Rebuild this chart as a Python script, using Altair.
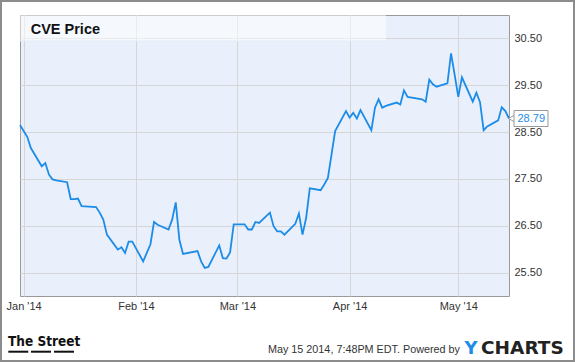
import altair as alt
import pandas as pd

# ---- data ----
dates = [
    "2013-12-31", "2014-01-02", "2014-01-03", "2014-01-06", "2014-01-07", "2014-01-08",
    "2014-01-09", "2014-01-10", "2014-01-13", "2014-01-14", "2014-01-15", "2014-01-16",
    "2014-01-17", "2014-01-21", "2014-01-22", "2014-01-23", "2014-01-24", "2014-01-27",
    "2014-01-28", "2014-01-29", "2014-01-30", "2014-01-31", "2014-02-03", "2014-02-04",
    "2014-02-05", "2014-02-06", "2014-02-07", "2014-02-10", "2014-02-11", "2014-02-12",
    "2014-02-13", "2014-02-14", "2014-02-18", "2014-02-19", "2014-02-20", "2014-02-21",
    "2014-02-24", "2014-02-25", "2014-02-26", "2014-02-27", "2014-02-28", "2014-03-03",
    "2014-03-04", "2014-03-05", "2014-03-06", "2014-03-07", "2014-03-10", "2014-03-11",
    "2014-03-12", "2014-03-13", "2014-03-14", "2014-03-17", "2014-03-18", "2014-03-19",
    "2014-03-20", "2014-03-21", "2014-03-24", "2014-03-25", "2014-03-26", "2014-03-27",
    "2014-03-28", "2014-03-31", "2014-04-01", "2014-04-02", "2014-04-03", "2014-04-04",
    "2014-04-07", "2014-04-08", "2014-04-09", "2014-04-10", "2014-04-11", "2014-04-14",
    "2014-04-15", "2014-04-16", "2014-04-17", "2014-04-21", "2014-04-22", "2014-04-23",
    "2014-04-24", "2014-04-25", "2014-04-28", "2014-04-29", "2014-04-30", "2014-05-01",
    "2014-05-02", "2014-05-05", "2014-05-06", "2014-05-07", "2014-05-08", "2014-05-09",
    "2014-05-12", "2014-05-13", "2014-05-14", "2014-05-15",
]
prices = [
    28.65, 28.40, 28.16, 27.77, 27.84, 27.59,
    27.49, 27.47, 27.43, 27.07, 27.07, 27.08,
    26.92, 26.90, 26.78, 26.63, 26.31, 25.99,
    26.04, 25.92, 26.16, 26.16, 25.74, 25.92,
    26.10, 26.58, 26.52, 26.42, 26.63, 27.00,
    26.20, 25.90, 25.96, 25.74, 25.60, 25.62,
    26.08, 25.81, 25.80, 25.93, 26.53, 26.53,
    26.42, 26.42, 26.58, 26.56, 26.78, 26.49,
    26.38, 26.38, 26.31, 26.54, 26.76, 26.31,
    26.67, 27.30, 27.26, 27.38, 27.52, 28.02,
    28.52, 28.95, 28.81, 28.91, 28.79, 28.97,
    28.54, 29.02, 29.20, 29.02, 29.06, 29.13,
    29.09, 29.39, 29.25, 29.20, 29.15, 29.62,
    29.52, 29.47, 29.54, 30.18, 29.72, 29.25,
    29.67, 29.15, 29.34, 29.14, 28.54, 28.62,
    28.75, 29.03, 28.95, 28.79,
]
y_ticks = [25.5, 26.5, 27.5, 28.5, 29.5, 30.5]
month_ticks = [(2014, 1), (2014, 2), (2014, 3), (2014, 4), (2014, 5)]
title_text = "CVE Price"
footer_text = "May 15 2014, 7:48PM EDT.  Powered by"
brand_left = "The Street"
brand_y = "Y"
brand_rest = "CHARTS"

# ---- styling ----
BLUE = "#1c8ce9"
FONT = "Liberation Sans"
W, H = 489, 281
PX_PER_UNIT = H / 6.0

df = pd.DataFrame({"date": [d + "T00:00:00" for d in dates], "price": prices})
last = df.tail(1).copy()
last["lo"] = last["price"] - 8 / PX_PER_UNIT
last["hi"] = last["price"] + 8 / PX_PER_UNIT
one = pd.DataFrame({"k": [0]})

x_scale = alt.Scale(domain=[alt.DateTime(year=2013, month=12, date=31),
                            alt.DateTime(year=2014, month=5, date=15)])
y_scale = alt.Scale(domain=[25, 31], nice=False, zero=False)
y_axis = alt.Axis(orient="right", values=y_ticks, format=".2f", labelPadding=5,
                  grid=True, title=None)

x_enc = alt.X(
    "date:T", scale=x_scale, title=None,
    axis=alt.Axis(values=[alt.DateTime(year=y, month=m, date=1) for y, m in month_ticks],
                  format="%b '%y", labelFlush=False, labelAlign="center",
                  labelPadding=4, grid=True, title=None),
)


def ych(field):
    return alt.Y(field, scale=y_scale, axis=y_axis, title=None)


title_box = alt.Chart(one).mark_rect(fill="white", opacity=0.5).encode(
    x=alt.value(0), x2=alt.value(366), y=alt.value(0), y2=alt.value(26))
title_edge = alt.Chart(one).mark_rule(color="#e3e9f3", strokeWidth=1).encode(
    x=alt.value(0), x2=alt.value(366), y=alt.value(26))

line = alt.Chart(df).mark_line(color=BLUE, strokeWidth=1.8).encode(x=x_enc, y=ych("price:Q"))

pointer = alt.Chart(last).mark_point(shape="triangle-left", size=60, filled=True,
                                     fill="white", stroke="#999999", strokeWidth=1,
                                     opacity=1).encode(
    x=alt.value(492), y=ych("price:Q"))
box = alt.Chart(last).mark_rect(fill="white", stroke="#999999", strokeWidth=1).encode(
    x=alt.value(494), x2=alt.value(528), y=ych("hi:Q"), y2="lo:Q")
box_text = alt.Chart(last).mark_text(align="left", baseline="middle", font=FONT,
                                     fontSize=11, color=BLUE).encode(
    x=alt.value(497.5), y=ych("price:Q"),
    text=alt.Text("price:Q", format=".2f"))

title = alt.Chart(one).mark_text(align="left", baseline="alphabetic", font=FONT,
                                 fontSize=14.5, fontWeight="bold", color="#111111",
                                 text=title_text).encode(
    x=alt.value(10.7), y=alt.value(18.5))

footer = alt.Chart(one).mark_text(align="right", baseline="alphabetic", font=FONT,
                                  fontSize=10.8, color="#333333", text=footer_text).encode(
    x=alt.value(440), y=alt.value(338))
ych_y = alt.Chart(one).mark_text(align="left", baseline="alphabetic", font="DejaVu Sans",
                                 fontSize=18, fontWeight="bold", color=BLUE,
                                 text=brand_y).encode(x=alt.value(444.5), y=alt.value(339))
ych_rest = alt.Chart(one).mark_text(align="left", baseline="alphabetic", font="DejaVu Sans",
                                    fontSize=18.5, fontWeight="bold", color="#222222",
                                    text=brand_rest).encode(x=alt.value(461), y=alt.value(339))
street = alt.Chart(one).mark_text(align="left", baseline="alphabetic",
                                  font="DejaVu Sans Condensed, sans-serif",
                                  fontSize=13.5, fontWeight="bold", color="#111111",
                                  text=brand_left).encode(x=alt.value(-12), y=alt.value(331))
u1 = alt.Chart(one).mark_rule(color="#111111", strokeWidth=2).encode(
    x=alt.value(-11.7), x2=alt.value(8.3), y=alt.value(336.7))
u2 = alt.Chart(one).mark_rule(color="#111111", strokeWidth=2).encode(
    x=alt.value(11), x2=alt.value(31), y=alt.value(336.7))
u3 = alt.Chart(one).mark_rule(color="#111111", strokeWidth=2).encode(
    x=alt.value(34), x2=alt.value(54), y=alt.value(336.7))
frame = alt.Chart(one).mark_rect(fill="transparent", stroke="#8c8c8c", strokeWidth=2).encode(
    x=alt.value(-19), x2=alt.value(554), y=alt.value(-14), y2=alt.value(346))

chart = alt.layer(
    title_box, title_edge, line, pointer, box, box_text, title,
    footer, ych_y, ych_rest, street, u1, u2, u3, frame,
).properties(
    width=W, height=H, autosize="none",
    padding={"left": 20, "top": 15, "right": 66, "bottom": 66},
    background="white",
).configure_view(
    fill="#eaf0fb", stroke="#999999", strokeWidth=1,
).configure_axis(
    gridColor="#d6d6d6", gridWidth=1, domain=False, ticks=False,
    labelFont=FONT, labelFontSize=11, labelColor="#333333",
)

chart.save("out.html", embed_options={"renderer": "svg", "actions": False})
